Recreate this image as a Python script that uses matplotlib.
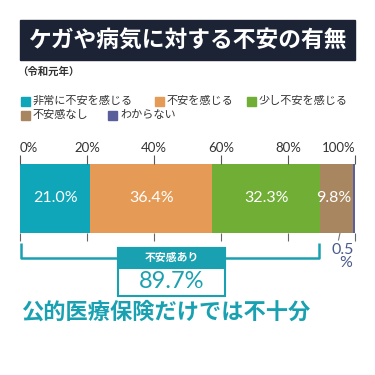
import matplotlib
matplotlib.use("Agg")
import matplotlib.pyplot as plt
from matplotlib.patches import Rectangle

plt.rcParams['font.family'] = ['Noto Sans CJK JP', 'DejaVu Sans']

# ---- data ----
categories = ["非常に不安を感じる", "不安を感じる", "少し不安を感じる", "不安感なし", "わからない"]
values = [21.0, 36.4, 32.3, 9.8, 0.5]
colors = ["#0ea6b8", "#e59b56", "#70ae35", "#a8865f", "#5a5f9c"]
tick_values = [0, 20, 40, 60, 80, 100]
tick_labels = ["0%", "20%", "40%", "60%", "80%", "100%"]
title = "ケガや病気に対する不安の有無"
subtitle = "（令和元年）"
anxious_label = "不安感あり"
anxious_total = "89.7%"
footer = "公的医療保険だけでは不十分"

W = H = 375
fig = plt.figure(figsize=(3.75, 3.75), dpi=100)
fig.patch.set_facecolor("white")

# overlay axes in pixel coordinates
ov = fig.add_axes([0, 0, 1, 1])
ov.set_xlim(0, W)
ov.set_ylim(H, 0)
ov.axis("off")

TEAL = "#1aa1b1"
NAVY_TXT = "#4b5a8c"

# title
ov.add_patch(Rectangle((20, 20), 335, 40, color="#1b2335", zorder=1))
ov.text(187.5, 40.5, title, color="white", fontsize=16.4, fontweight="bold",
        ha="center", va="center", zorder=2)
ov.text(17, 72, subtitle, color="#333333", fontsize=7.5, fontweight="bold",
        ha="left", va="center")

# legend (manual layout)
leg_pos = [(21, 101), (155, 101), (247, 101), (21, 115), (108, 115)]
for (x, y), lab, c in zip(leg_pos, categories, colors):
    ov.add_patch(Rectangle((x, y - 4.5), 9, 9, color=c))
    ov.text(x + 12, y, lab, fontsize=8, color="#333333", ha="left", va="center")

# bar axes
x0, x1 = 20, 355
y0, y1 = 164, 233
ax = fig.add_axes([x0 / W, 1 - y1 / H, (x1 - x0) / W, (y1 - y0) / H])
ax.set_xlim(0, 100)
ax.set_ylim(-0.5, 0.5)
left = 0
for v, c in zip(values, colors):
    ax.barh(0, v, left=left, height=1.0, color=c, edgecolor="none")
    if v >= 5:
        cx = left + v / 2 if v > 15 else left + v / 2 - 0.8
        ax.text(cx, 0, f"{v:.1f}%", color="white", fontsize=11.5,
                ha="center", va="center", family=["Lato", "DejaVu Sans"])
    left += v
for s in ax.spines.values():
    s.set_visible(False)
ax.set_yticks([])
ax.set_xticks(tick_values)
ax.set_xticklabels(tick_labels, family=["Lato", "DejaVu Sans"], fontsize=9.5, color="#333333")
ax.tick_params(axis="x", top=True, labeltop=True, bottom=False, labelbottom=False,
               length=6.5, width=0.8, color="#555555", pad=0.5)
lbls = ax.get_xticklabels()
lbls[0].set_ha("left")
lbls[-1].set_ha("right")
lbls[0].set_x(-0.3)
# bottom ticks crossing the lower edge
ax.vlines(tick_values, -0.5, -0.56, color="white", alpha=0.5, lw=0.8, clip_on=False)
ax.vlines(tick_values, -0.62, -0.5, color="#666666", lw=0.8, clip_on=False)
ax.set_facecolor("none")

# leader for the small segment
ov.plot([352, 344.5, 340], [222, 223, 233], color="white", lw=1.3, zorder=5)
ov.plot([340, 338.5], [233, 240], color="#777777", lw=0.8, zorder=5)
ov.text(343, 250, "0.5", color=NAVY_TXT, fontsize=11.5, ha="center", va="center",
        family=["Lato", "DejaVu Sans"])
ov.text(346, 263, "%", color=NAVY_TXT, fontsize=11.5, ha="center", va="center",
        family=["Lato", "DejaVu Sans"])

# bracket
ov.plot([21, 21, 118], [243, 258, 258], color=TEAL, lw=1.8, solid_capstyle="butt")
ov.plot([225, 319, 319], [258, 258, 243], color=TEAL, lw=1.8, solid_capstyle="butt")
ov.add_patch(Rectangle((118, 248), 107, 48, facecolor="white", edgecolor=TEAL, lw=1.5))
ov.add_patch(Rectangle((118, 248), 107, 20, facecolor=TEAL, edgecolor=TEAL, lw=1.5))
ov.text(171.5, 258, anxious_label, color="white", fontsize=7.8, fontweight="bold",
        ha="center", va="center")
ov.text(171.5, 282, anxious_total, color=TEAL, fontsize=17,
        ha="center", va="center", family=["Lato", "DejaVu Sans"])

ov.text(21, 312.5, footer, color=TEAL, fontsize=16, fontweight="bold",
        ha="left", va="center")

fig.savefig("out.png", dpi=100, facecolor="white")
